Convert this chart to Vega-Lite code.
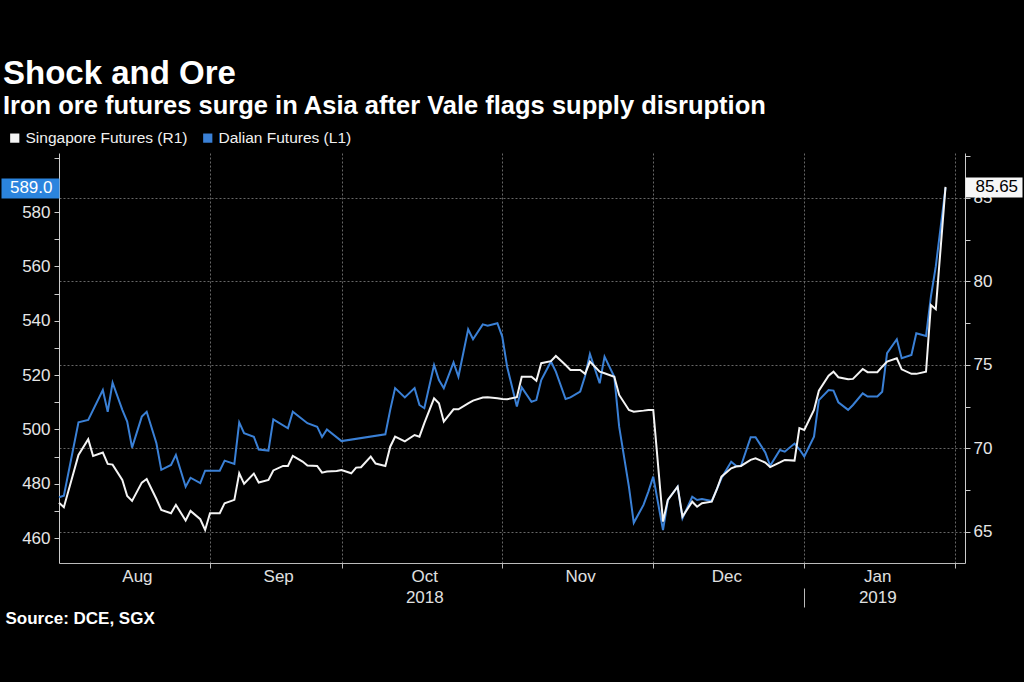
{
  "$schema": "https://vega.github.io/schema/vega-lite/v6.json",
  "width": 906,
  "height": 410,
  "autosize": {"type": "none"},
  "padding": {"left": 59, "top": 153, "right": 59, "bottom": 119},
  "background": "#000000",
  "config": {"view": {"stroke": null}, "font": "Liberation Sans"},
  "title": {
    "text": "Shock and Ore",
    "subtitle": "Iron ore futures surge in Asia after Vale flags supply disruption",
    "anchor": "start",
    "frame": "group",
    "dx": -56,
    "offset": 11,
    "font": "Liberation Sans",
    "fontSize": 33,
    "fontWeight": "bold",
    "color": "#ffffff",
    "subtitleFont": "Liberation Sans",
    "subtitleFontSize": 25.5,
    "subtitleFontWeight": "bold",
    "subtitleColor": "#ffffff",
    "subtitlePadding": 3
  },
  "data": {
    "values": [
      {"series": "Dalian", "date": "2018-08-01", "value": 475.0},
      {"series": "Dalian", "date": "2018-08-02", "value": 475.6},
      {"series": "Dalian", "date": "2018-08-05", "value": 502.6},
      {"series": "Dalian", "date": "2018-08-07", "value": 503.5},
      {"series": "Dalian", "date": "2018-08-10", "value": 514.5},
      {"series": "Dalian", "date": "2018-08-11", "value": 506.5},
      {"series": "Dalian", "date": "2018-08-12", "value": 517.2},
      {"series": "Dalian", "date": "2018-08-14", "value": 507.2},
      {"series": "Dalian", "date": "2018-08-15", "value": 502.9},
      {"series": "Dalian", "date": "2018-08-16", "value": 493.3},
      {"series": "Dalian", "date": "2018-08-18", "value": 504.7},
      {"series": "Dalian", "date": "2018-08-19", "value": 506.5},
      {"series": "Dalian", "date": "2018-08-21", "value": 494.9},
      {"series": "Dalian", "date": "2018-08-22", "value": 485.1},
      {"series": "Dalian", "date": "2018-08-24", "value": 486.9},
      {"series": "Dalian", "date": "2018-08-25", "value": 490.6},
      {"series": "Dalian", "date": "2018-08-27", "value": 478.9},
      {"series": "Dalian", "date": "2018-08-28", "value": 482.2},
      {"series": "Dalian", "date": "2018-08-30", "value": 480.2},
      {"series": "Dalian", "date": "2018-08-31", "value": 484.8},
      {"series": "Dalian", "date": "2018-09-01", "value": 484.8},
      {"series": "Dalian", "date": "2018-09-03", "value": 484.8},
      {"series": "Dalian", "date": "2018-09-04", "value": 488.5},
      {"series": "Dalian", "date": "2018-09-06", "value": 487.3},
      {"series": "Dalian", "date": "2018-09-07", "value": 502.6},
      {"series": "Dalian", "date": "2018-09-08", "value": 498.6},
      {"series": "Dalian", "date": "2018-09-10", "value": 497.3},
      {"series": "Dalian", "date": "2018-09-11", "value": 492.6},
      {"series": "Dalian", "date": "2018-09-13", "value": 492.2},
      {"series": "Dalian", "date": "2018-09-14", "value": 503.7},
      {"series": "Dalian", "date": "2018-09-17", "value": 500.4},
      {"series": "Dalian", "date": "2018-09-18", "value": 506.5},
      {"series": "Dalian", "date": "2018-09-21", "value": 502.3},
      {"series": "Dalian", "date": "2018-09-23", "value": 501.0},
      {"series": "Dalian", "date": "2018-09-24", "value": 497.2},
      {"series": "Dalian", "date": "2018-09-25", "value": 500.0},
      {"series": "Dalian", "date": "2018-09-28", "value": 495.7},
      {"series": "Dalian", "date": "2018-10-07", "value": 498.2},
      {"series": "Dalian", "date": "2018-10-08", "value": 507.2},
      {"series": "Dalian", "date": "2018-10-09", "value": 515.2},
      {"series": "Dalian", "date": "2018-10-11", "value": 511.8},
      {"series": "Dalian", "date": "2018-10-13", "value": 515.2},
      {"series": "Dalian", "date": "2018-10-14", "value": 509.0},
      {"series": "Dalian", "date": "2018-10-15", "value": 507.8},
      {"series": "Dalian", "date": "2018-10-17", "value": 523.7},
      {"series": "Dalian", "date": "2018-10-18", "value": 518.2},
      {"series": "Dalian", "date": "2018-10-19", "value": 515.2},
      {"series": "Dalian", "date": "2018-10-21", "value": 524.7},
      {"series": "Dalian", "date": "2018-10-22", "value": 519.4},
      {"series": "Dalian", "date": "2018-10-24", "value": 536.9},
      {"series": "Dalian", "date": "2018-10-25", "value": 533.2},
      {"series": "Dalian", "date": "2018-10-27", "value": 538.7},
      {"series": "Dalian", "date": "2018-10-28", "value": 538.2},
      {"series": "Dalian", "date": "2018-10-30", "value": 539.1},
      {"series": "Dalian", "date": "2018-10-31", "value": 534.2},
      {"series": "Dalian", "date": "2018-11-01", "value": 523.1},
      {"series": "Dalian", "date": "2018-11-03", "value": 508.4},
      {"series": "Dalian", "date": "2018-11-04", "value": 515.5},
      {"series": "Dalian", "date": "2018-11-06", "value": 510.2},
      {"series": "Dalian", "date": "2018-11-07", "value": 510.8},
      {"series": "Dalian", "date": "2018-11-08", "value": 518.2},
      {"series": "Dalian", "date": "2018-11-10", "value": 525.0},
      {"series": "Dalian", "date": "2018-11-11", "value": 521.3},
      {"series": "Dalian", "date": "2018-11-13", "value": 511.2},
      {"series": "Dalian", "date": "2018-11-14", "value": 511.8},
      {"series": "Dalian", "date": "2018-11-16", "value": 513.9},
      {"series": "Dalian", "date": "2018-11-17", "value": 519.7},
      {"series": "Dalian", "date": "2018-11-18", "value": 527.8},
      {"series": "Dalian", "date": "2018-11-20", "value": 517.0},
      {"series": "Dalian", "date": "2018-11-21", "value": 526.8},
      {"series": "Dalian", "date": "2018-11-23", "value": 519.4},
      {"series": "Dalian", "date": "2018-11-24", "value": 501.0},
      {"series": "Dalian", "date": "2018-11-26", "value": 478.9},
      {"series": "Dalian", "date": "2018-11-27", "value": 465.6},
      {"series": "Dalian", "date": "2018-11-29", "value": 472.2},
      {"series": "Dalian", "date": "2018-11-30", "value": 477.1},
      {"series": "Dalian", "date": "2018-12-01", "value": 482.6},
      {"series": "Dalian", "date": "2018-12-03", "value": 462.9},
      {"series": "Dalian", "date": "2018-12-04", "value": 474.0},
      {"series": "Dalian", "date": "2018-12-06", "value": 478.9},
      {"series": "Dalian", "date": "2018-12-07", "value": 467.3},
      {"series": "Dalian", "date": "2018-12-09", "value": 475.2},
      {"series": "Dalian", "date": "2018-12-10", "value": 474.0},
      {"series": "Dalian", "date": "2018-12-11", "value": 474.4},
      {"series": "Dalian", "date": "2018-12-13", "value": 473.6},
      {"series": "Dalian", "date": "2018-12-14", "value": 477.7},
      {"series": "Dalian", "date": "2018-12-15", "value": 482.0},
      {"series": "Dalian", "date": "2018-12-17", "value": 488.1},
      {"series": "Dalian", "date": "2018-12-18", "value": 486.6},
      {"series": "Dalian", "date": "2018-12-19", "value": 486.5},
      {"series": "Dalian", "date": "2018-12-21", "value": 497.1},
      {"series": "Dalian", "date": "2018-12-22", "value": 497.1},
      {"series": "Dalian", "date": "2018-12-24", "value": 491.5},
      {"series": "Dalian", "date": "2018-12-25", "value": 486.6},
      {"series": "Dalian", "date": "2018-12-27", "value": 492.4},
      {"series": "Dalian", "date": "2018-12-28", "value": 491.8},
      {"series": "Dalian", "date": "2018-12-30", "value": 494.8},
      {"series": "Dalian", "date": "2018-12-31", "value": 492.7},
      {"series": "Dalian", "date": "2019-01-01", "value": 490.0},
      {"series": "Dalian", "date": "2019-01-03", "value": 497.3},
      {"series": "Dalian", "date": "2019-01-04", "value": 510.8},
      {"series": "Dalian", "date": "2019-01-06", "value": 514.5},
      {"series": "Dalian", "date": "2019-01-07", "value": 514.3},
      {"series": "Dalian", "date": "2019-01-08", "value": 510.0},
      {"series": "Dalian", "date": "2019-01-10", "value": 507.2},
      {"series": "Dalian", "date": "2019-01-11", "value": 509.0},
      {"series": "Dalian", "date": "2019-01-13", "value": 513.3},
      {"series": "Dalian", "date": "2019-01-14", "value": 512.1},
      {"series": "Dalian", "date": "2019-01-16", "value": 512.1},
      {"series": "Dalian", "date": "2019-01-17", "value": 513.9},
      {"series": "Dalian", "date": "2019-01-18", "value": 528.1},
      {"series": "Dalian", "date": "2019-01-20", "value": 533.2},
      {"series": "Dalian", "date": "2019-01-21", "value": 526.2},
      {"series": "Dalian", "date": "2019-01-23", "value": 527.4},
      {"series": "Dalian", "date": "2019-01-24", "value": 535.4},
      {"series": "Dalian", "date": "2019-01-26", "value": 534.4},
      {"series": "Dalian", "date": "2019-01-27", "value": 548.9},
      {"series": "Dalian", "date": "2019-01-28", "value": 560.0},
      {"series": "Dalian", "date": "2019-01-30", "value": 589.0},
      {"series": "Singapore", "date": "2018-08-01", "value": 66.75},
      {"series": "Singapore", "date": "2018-08-02", "value": 66.48},
      {"series": "Singapore", "date": "2018-08-05", "value": 69.61},
      {"series": "Singapore", "date": "2018-08-07", "value": 70.55},
      {"series": "Singapore", "date": "2018-08-08", "value": 69.55},
      {"series": "Singapore", "date": "2018-08-10", "value": 69.75},
      {"series": "Singapore", "date": "2018-08-11", "value": 69.07},
      {"series": "Singapore", "date": "2018-08-12", "value": 69.03},
      {"series": "Singapore", "date": "2018-08-14", "value": 68.11},
      {"series": "Singapore", "date": "2018-08-15", "value": 67.15},
      {"series": "Singapore", "date": "2018-08-16", "value": 66.86},
      {"series": "Singapore", "date": "2018-08-18", "value": 67.95},
      {"series": "Singapore", "date": "2018-08-19", "value": 68.17},
      {"series": "Singapore", "date": "2018-08-21", "value": 66.97},
      {"series": "Singapore", "date": "2018-08-22", "value": 66.32},
      {"series": "Singapore", "date": "2018-08-24", "value": 66.12},
      {"series": "Singapore", "date": "2018-08-25", "value": 66.62},
      {"series": "Singapore", "date": "2018-08-27", "value": 65.68},
      {"series": "Singapore", "date": "2018-08-28", "value": 66.26},
      {"series": "Singapore", "date": "2018-08-30", "value": 65.76},
      {"series": "Singapore", "date": "2018-08-31", "value": 65.12},
      {"series": "Singapore", "date": "2018-09-01", "value": 66.12},
      {"series": "Singapore", "date": "2018-09-03", "value": 66.12},
      {"series": "Singapore", "date": "2018-09-04", "value": 66.72},
      {"series": "Singapore", "date": "2018-09-06", "value": 66.92},
      {"series": "Singapore", "date": "2018-09-07", "value": 68.51},
      {"series": "Singapore", "date": "2018-09-08", "value": 67.88},
      {"series": "Singapore", "date": "2018-09-10", "value": 68.49},
      {"series": "Singapore", "date": "2018-09-11", "value": 67.96},
      {"series": "Singapore", "date": "2018-09-13", "value": 68.11},
      {"series": "Singapore", "date": "2018-09-14", "value": 68.68},
      {"series": "Singapore", "date": "2018-09-16", "value": 68.95},
      {"series": "Singapore", "date": "2018-09-17", "value": 68.95},
      {"series": "Singapore", "date": "2018-09-18", "value": 69.55},
      {"series": "Singapore", "date": "2018-09-20", "value": 69.21},
      {"series": "Singapore", "date": "2018-09-21", "value": 68.97},
      {"series": "Singapore", "date": "2018-09-23", "value": 68.95},
      {"series": "Singapore", "date": "2018-09-24", "value": 68.55},
      {"series": "Singapore", "date": "2018-09-25", "value": 68.61},
      {"series": "Singapore", "date": "2018-09-27", "value": 68.65},
      {"series": "Singapore", "date": "2018-09-28", "value": 68.71},
      {"series": "Singapore", "date": "2018-09-30", "value": 68.51},
      {"series": "Singapore", "date": "2018-10-01", "value": 68.85},
      {"series": "Singapore", "date": "2018-10-02", "value": 68.87},
      {"series": "Singapore", "date": "2018-10-04", "value": 69.51},
      {"series": "Singapore", "date": "2018-10-05", "value": 69.09},
      {"series": "Singapore", "date": "2018-10-07", "value": 68.95},
      {"series": "Singapore", "date": "2018-10-08", "value": 70.10},
      {"series": "Singapore", "date": "2018-10-09", "value": 70.70},
      {"series": "Singapore", "date": "2018-10-11", "value": 70.42},
      {"series": "Singapore", "date": "2018-10-13", "value": 70.80},
      {"series": "Singapore", "date": "2018-10-14", "value": 70.70},
      {"series": "Singapore", "date": "2018-10-15", "value": 71.51},
      {"series": "Singapore", "date": "2018-10-17", "value": 73.00},
      {"series": "Singapore", "date": "2018-10-18", "value": 72.70},
      {"series": "Singapore", "date": "2018-10-19", "value": 71.60},
      {"series": "Singapore", "date": "2018-10-21", "value": 72.34},
      {"series": "Singapore", "date": "2018-10-22", "value": 72.34},
      {"series": "Singapore", "date": "2018-10-24", "value": 72.70},
      {"series": "Singapore", "date": "2018-10-25", "value": 72.86},
      {"series": "Singapore", "date": "2018-10-27", "value": 73.04},
      {"series": "Singapore", "date": "2018-10-28", "value": 73.06},
      {"series": "Singapore", "date": "2018-10-30", "value": 73.00},
      {"series": "Singapore", "date": "2018-10-31", "value": 72.96},
      {"series": "Singapore", "date": "2018-11-01", "value": 72.94},
      {"series": "Singapore", "date": "2018-11-03", "value": 73.06},
      {"series": "Singapore", "date": "2018-11-04", "value": 74.29},
      {"series": "Singapore", "date": "2018-11-06", "value": 74.29},
      {"series": "Singapore", "date": "2018-11-07", "value": 74.05},
      {"series": "Singapore", "date": "2018-11-08", "value": 75.10},
      {"series": "Singapore", "date": "2018-11-10", "value": 75.22},
      {"series": "Singapore", "date": "2018-11-11", "value": 75.53},
      {"series": "Singapore", "date": "2018-11-13", "value": 74.99},
      {"series": "Singapore", "date": "2018-11-14", "value": 74.69},
      {"series": "Singapore", "date": "2018-11-16", "value": 74.69},
      {"series": "Singapore", "date": "2018-11-17", "value": 74.46},
      {"series": "Singapore", "date": "2018-11-18", "value": 75.19},
      {"series": "Singapore", "date": "2018-11-20", "value": 74.59},
      {"series": "Singapore", "date": "2018-11-21", "value": 74.50},
      {"series": "Singapore", "date": "2018-11-23", "value": 74.29},
      {"series": "Singapore", "date": "2018-11-24", "value": 73.20},
      {"series": "Singapore", "date": "2018-11-26", "value": 72.30},
      {"series": "Singapore", "date": "2018-11-27", "value": 72.20},
      {"series": "Singapore", "date": "2018-11-29", "value": 72.26},
      {"series": "Singapore", "date": "2018-11-30", "value": 72.30},
      {"series": "Singapore", "date": "2018-12-01", "value": 72.30},
      {"series": "Singapore", "date": "2018-12-03", "value": 65.62},
      {"series": "Singapore", "date": "2018-12-04", "value": 66.92},
      {"series": "Singapore", "date": "2018-12-06", "value": 67.71},
      {"series": "Singapore", "date": "2018-12-07", "value": 65.92},
      {"series": "Singapore", "date": "2018-12-09", "value": 66.81},
      {"series": "Singapore", "date": "2018-12-10", "value": 66.51},
      {"series": "Singapore", "date": "2018-12-11", "value": 66.72},
      {"series": "Singapore", "date": "2018-12-13", "value": 66.81},
      {"series": "Singapore", "date": "2018-12-14", "value": 67.51},
      {"series": "Singapore", "date": "2018-12-15", "value": 68.31},
      {"series": "Singapore", "date": "2018-12-17", "value": 68.81},
      {"series": "Singapore", "date": "2018-12-18", "value": 68.91},
      {"series": "Singapore", "date": "2018-12-19", "value": 68.95},
      {"series": "Singapore", "date": "2018-12-21", "value": 69.31},
      {"series": "Singapore", "date": "2018-12-22", "value": 69.41},
      {"series": "Singapore", "date": "2018-12-24", "value": 69.15},
      {"series": "Singapore", "date": "2018-12-25", "value": 68.88},
      {"series": "Singapore", "date": "2018-12-27", "value": 69.16},
      {"series": "Singapore", "date": "2018-12-28", "value": 69.31},
      {"series": "Singapore", "date": "2018-12-30", "value": 69.27},
      {"series": "Singapore", "date": "2018-12-31", "value": 71.21},
      {"series": "Singapore", "date": "2019-01-01", "value": 71.10},
      {"series": "Singapore", "date": "2019-01-03", "value": 72.30},
      {"series": "Singapore", "date": "2019-01-04", "value": 73.45},
      {"series": "Singapore", "date": "2019-01-06", "value": 74.35},
      {"series": "Singapore", "date": "2019-01-07", "value": 74.59},
      {"series": "Singapore", "date": "2019-01-08", "value": 74.26},
      {"series": "Singapore", "date": "2019-01-10", "value": 74.14},
      {"series": "Singapore", "date": "2019-01-11", "value": 74.16},
      {"series": "Singapore", "date": "2019-01-13", "value": 74.75},
      {"series": "Singapore", "date": "2019-01-14", "value": 74.56},
      {"series": "Singapore", "date": "2019-01-16", "value": 74.56},
      {"series": "Singapore", "date": "2019-01-17", "value": 74.89},
      {"series": "Singapore", "date": "2019-01-18", "value": 75.19},
      {"series": "Singapore", "date": "2019-01-20", "value": 75.39},
      {"series": "Singapore", "date": "2019-01-21", "value": 74.73},
      {"series": "Singapore", "date": "2019-01-23", "value": 74.46},
      {"series": "Singapore", "date": "2019-01-24", "value": 74.46},
      {"series": "Singapore", "date": "2019-01-26", "value": 74.59},
      {"series": "Singapore", "date": "2019-01-27", "value": 78.58},
      {"series": "Singapore", "date": "2019-01-28", "value": 78.33},
      {"series": "Singapore", "date": "2019-01-30", "value": 85.65}
    ]
  },
  "encoding": {
    "x": {
      "field": "date",
      "type": "temporal",
      "scale": {
        "type": "utc",
        "domain": [
          {"year": 2018, "month": 8, "date": 1, "utc": true},
          {"year": 2019, "month": 2, "date": 3, "utc": true}
        ],
        "nice": false
      },
      "axis": {
        "title": "Source: DCE, SGX",
        "titleAnchor": "start",
        "titleAlign": "left",
        "titleBaseline": "middle",
        "titleX": -54,
        "titleY": 55,
        "titleFont": "Liberation Sans",
        "titleFontSize": 17,
        "titleFontWeight": "bold",
        "titleColor": "#ffffff",
        "values": [
          {"year": 2018, "month": 8, "date": 17, "utc": true},
          {"year": 2018, "month": 9, "date": 1, "utc": true},
          {"year": 2018, "month": 9, "date": 15, "utc": true},
          {"year": 2018, "month": 9, "date": 28, "utc": true},
          {"year": 2018, "month": 10, "date": 15, "utc": true},
          {"year": 2018, "month": 10, "date": 31, "utc": true},
          {"year": 2018, "month": 11, "date": 16, "utc": true},
          {"year": 2018, "month": 12, "date": 1, "utc": true},
          {"year": 2018, "month": 12, "date": 16, "utc": true},
          {"year": 2019, "month": 1, "date": 1, "utc": true},
          {"year": 2019, "month": 1, "date": 16, "utc": true},
          {"year": 2019, "month": 2, "date": 1, "utc": true}
        ],
        "labelExpr": "(utcdate(datum.value) >= 10 && utcdate(datum.value) <= 20) ? (utcmonth(datum.value) == 9 ? ['Oct', '2018'] : (utcmonth(datum.value) == 0 ? ['Jan', '2019'] : utcFormat(datum.value, '%b'))) : ''",
        "labelFont": "Liberation Sans",
        "labelFontSize": 17,
        "labelColor": "#e0e0e0",
        "labelLineHeight": 21,
        "labelPadding": 0,
        "labelFlush": false,
        "labelOverlap": false,
        "labelBaseline": "top",
        "tickSize": {"condition": {"test": "utcmonth(datum.value) == 0 && utcdate(datum.value) == 1", "value": 44}, "value": 5},
        "tickDash": {"condition": {"test": "utcmonth(datum.value) == 0 && utcdate(datum.value) == 1", "value": [5, 20, 19, 10]}, "value": []},
        "tickColor": "#bbbbbb",
        "tickOpacity": {"condition": {"test": "utcdate(datum.value) >= 10 && utcdate(datum.value) <= 20", "value": 0}, "value": 1},
        "grid": true,
        "gridColor": "#666666",
        "gridDash": [2, 2],
        "gridWidth": 1,
        "gridOpacity": {"condition": {"test": "utcdate(datum.value) >= 10 && utcdate(datum.value) <= 20", "value": 0}, "value": 1},
        "domainColor": "#bbbbbb",
        "domainWidth": 1
      }
    }
  },
  "layer": [
    {
      "transform": [{"filter": "datum.series == 'Dalian'"}],
      "mark": {"type": "line", "strokeWidth": 2},
      "encoding": {
        "y": {
          "field": "value",
          "type": "quantitative",
          "scale": {"domain": [450.8, 601.8], "nice": false, "zero": false},
          "axis": {
            "orient": "left",
            "title": null,
            "values": [460, 470, 480, 490, 500, 510, 520, 530, 540, 550, 560, 570, 580, 590, 600],
            "labelExpr": "(datum.value % 20 == 0 && datum.value <= 580) ? datum.label : ''",
            "labelFont": "Liberation Sans",
            "labelFontSize": 17,
            "labelColor": "#e6e6e6",
            "labelPadding": 4,
            "tickSize": 5,
            "tickColor": "#cccccc",
            "domainColor": "#cccccc",
            "grid": false
          }
        },
        "color": {
          "field": "series",
          "type": "nominal",
          "scale": {"domain": ["Singapore", "Dalian"], "range": ["#f4f4f4", "#3a80d6"]},
          "legend": {
            "orient": "none",
            "legendX": -52,
            "legendY": -23,
            "direction": "horizontal",
            "title": null,
            "labelExpr": "datum.label == 'Singapore' ? 'Singapore Futures (R1)' : 'Dalian Futures (L1)'",
            "labelFont": "Liberation Sans",
            "labelFontSize": 15.5,
            "labelLimit": 400,
            "labelColor": "#f0f0f0",
            "symbolType": "square",
            "symbolSize": 85,
            "symbolStrokeWidth": 0,
            "labelOffset": 3,
            "columnPadding": 12,
            "padding": 0,
            "encode": {"symbols": {"update": {"fill": {"scale": "color", "field": "value"}, "strokeWidth": {"value": 0}}}}
          }
        }
      }
    },
    {
      "transform": [{"filter": "datum.series == 'Singapore'"}],
      "mark": {"type": "line", "strokeWidth": 2},
      "encoding": {
        "y": {
          "field": "value",
          "type": "quantitative",
          "scale": {"domain": [63.14, 87.68], "nice": false, "zero": false},
          "axis": {
            "orient": "right",
            "title": null,
            "values": [65, 67.5, 70, 72.5, 75, 77.5, 80, 82.5, 85, 87.5],
            "labelExpr": "(datum.value % 5 == 0 && datum.value <= 85) ? datum.label : ''",
            "labelFont": "Liberation Sans",
            "labelFontSize": 17,
            "labelColor": "#e6e6e6",
            "labelPadding": 3,
            "tickSize": 5,
            "tickColor": "#cccccc",
            "domainColor": "#cccccc",
            "grid": true,
            "gridColor": "#666666",
            "gridDash": [2, 2],
            "gridOpacity": {"condition": {"test": "datum.value % 5 == 0 && datum.value <= 85", "value": 1}, "value": 0}
          }
        },
        "color": {"field": "series", "type": "nominal"}
      }
    },
    {
      "transform": [{"filter": "datum.series == 'Dalian' && datum.value == 589.0"}],
      "mark": {"type": "point", "opacity": 0},
      "encoding": {
        "y": {
          "field": "value",
          "type": "quantitative",
          "scale": {"domain": [450.8, 601.8], "nice": false, "zero": false},
          "axis": {
            "orient": "left",
            "title": null,
            "zindex": 2,
            "values": [589.0],
            "format": ".1f",
            "domain": false,
            "grid": false,
            "tickSize": 58,
            "tickWidth": 20,
            "tickCap": "butt",
            "tickColor": "#2b84de",
            "labelFont": "Liberation Sans",
            "labelFontSize": 17,
            "labelColor": "#ffffff",
            "labelPadding": -51
          }
        }
      }
    },
    {
      "transform": [{"filter": "datum.series == 'Singapore' && datum.value == 85.65"}],
      "mark": {"type": "point", "opacity": 0},
      "encoding": {
        "y": {
          "field": "value",
          "type": "quantitative",
          "scale": {"domain": [63.14, 87.68], "nice": false, "zero": false},
          "axis": {
            "orient": "right",
            "title": null,
            "zindex": 2,
            "values": [85.65],
            "format": ".2f",
            "domain": false,
            "grid": false,
            "tickSize": 57,
            "tickWidth": 20,
            "tickCap": "butt",
            "tickColor": "#f7f7f7",
            "labelFont": "Liberation Sans",
            "labelFontSize": 17,
            "labelColor": "#000000",
            "labelPadding": -47
          }
        }
      }
    }
  ],
  "resolve": {"scale": {"y": "independent"}}
}
